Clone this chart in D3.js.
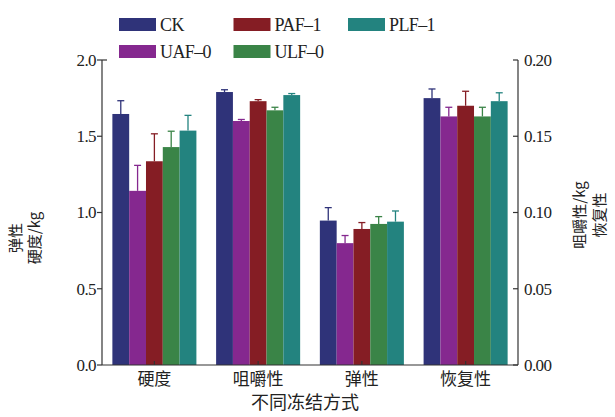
<!DOCTYPE html>
<html><head><meta charset="utf-8">
<script src="https://cdn.jsdelivr.net/npm/d3@7"></script>
<style>
html,body{margin:0;padding:0;background:#fff;}
svg{display:block;}
.num{font-family:"Liberation Serif","Times New Roman",serif;}
.cjk{font-family:"Noto Sans CJK SC",sans-serif;}
</style></head>
<body>
<svg id="chart" width="615" height="417"></svg>
<script>
// ---- data ----
const categories = ["硬度", "咀嚼性", "弹性", "恢复性"];
const axisSide = ["left", "right", "left", "right"];   // which y axis each category reads from
const seriesNames = ["CK", "UAF–0", "PAF–1", "ULF–0", "PLF–1"];
const seriesColors = ["#2f3379", "#85288f", "#851d24", "#3a8447", "#23837f"];
// values per series, in category order (硬度 kg, 咀嚼性 kg, 弹性, 恢复性)
const valCK  = [1.646, 0.179, 0.947, 0.175];
const valUAF = [1.142, 0.160, 0.799, 0.163];
const valPAF = [1.336, 0.173, 0.892, 0.170];
const valULF = [1.429, 0.167, 0.925, 0.163];
const valPLF = [1.537, 0.177, 0.940, 0.173];
const errCK  = [0.087, 0.0015, 0.085, 0.006];
const errUAF = [0.167, 0.0010, 0.050, 0.006];
const errPAF = [0.180, 0.0010, 0.042, 0.0095];
const errULF = [0.104, 0.0020, 0.048, 0.006];
const errPLF = [0.100, 0.0010, 0.070, 0.0055];
const leftTicks = [0.0, 0.5, 1.0, 1.5, 2.0];
const rightTicks = [0.00, 0.05, 0.10, 0.15, 0.20];

const values = [valCK, valUAF, valPAF, valULF, valPLF];
const errors = [errCK, errUAF, errPAF, errULF, errPLF];

const svg = d3.select("#chart");
const L = 102, R = 518, T = 60, B = 365;

const x0 = d3.scaleBand().domain(categories).range([L, R]).paddingInner(0.19).paddingOuter(0.1);
const x1 = d3.scaleBand().domain(seriesNames).range([0, x0.bandwidth()]).padding(0);
const yL = d3.scaleLinear().domain([0, 2.0]).range([B, T]);
const yR = d3.scaleLinear().domain([0, 0.20]).range([B, T]);
const yOf = ci => axisSide[ci] === "left" ? yL : yR;

// bars
const rows = [];
seriesNames.forEach((s, si) => {
  categories.forEach((c, ci) => {
    rows.push({s, si, c, ci, v: values[si][ci], e: errors[si][ci]});
  });
});

// error bars
const eg = svg.append("g");
rows.forEach(d => {
  const y = yOf(d.ci);
  const cx = x0(d.c) + x1(d.s) + x1.bandwidth() / 2;
  eg.append("line").attr("x1", cx).attr("x2", cx)
    .attr("y1", y(d.v)).attr("y2", y(d.v + d.e))
    .attr("stroke", seriesColors[d.si]).attr("stroke-width", 1.3);
  eg.append("line").attr("x1", cx - 3.5).attr("x2", cx + 3.5)
    .attr("y1", y(d.v + d.e)).attr("y2", y(d.v + d.e))
    .attr("stroke", seriesColors[d.si]).attr("stroke-width", 1.3);
});

svg.append("g").selectAll("rect").data(rows).join("rect")
  .attr("x", d => x0(d.c) + x1(d.s))
  .attr("width", x1.bandwidth())
  .attr("y", d => yOf(d.ci)(d.v))
  .attr("height", d => B - yOf(d.ci)(d.v))
  .attr("fill", d => seriesColors[d.si]);

// axes
const ax = svg.append("g").attr("stroke", "#333").attr("stroke-width", 1.2).attr("fill", "none");
ax.append("line").attr("x1", L).attr("x2", L).attr("y1", T).attr("y2", B);
ax.append("line").attr("x1", R).attr("x2", R).attr("y1", T).attr("y2", B);
ax.append("line").attr("x1", L).attr("x2", R).attr("y1", B).attr("y2", B);
leftTicks.forEach(t => {
  ax.append("line").attr("x1", L - 5).attr("x2", L).attr("y1", yL(t)).attr("y2", yL(t));
});
ax.append("line").attr("x1", L).attr("x2", L + 5).attr("y1", yL(2.0)).attr("y2", yL(2.0));
rightTicks.forEach(t => {
  ax.append("line").attr("x1", R - 5).attr("x2", R).attr("y1", yR(t)).attr("y2", yR(t));
});
categories.forEach(c => {
  const cx = x0(c) + x0.bandwidth() / 2;
  ax.append("line").attr("x1", cx).attr("x2", cx).attr("y1", B).attr("y2", B - 4);
});

// tick labels
svg.append("g").selectAll("text").data(leftTicks).join("text")
  .attr("class", "num").attr("x", L - 6).attr("y", d => yL(d)).attr("dy", "0.35em")
  .attr("text-anchor", "end").attr("font-size", 17).attr("letter-spacing", -0.6).attr("fill", "#222")
  .text(d => d3.format(".1f")(d));
svg.append("g").selectAll("text").data(rightTicks).join("text")
  .attr("class", "num").attr("x", R + 6).attr("y", d => yR(d)).attr("dy", "0.35em")
  .attr("text-anchor", "start").attr("font-size", 17).attr("letter-spacing", -0.6).attr("fill", "#222")
  .text(d => d3.format(".2f")(d));

// category labels
svg.append("g").selectAll("text").data(categories).join("text")
  .attr("class", "cjk").attr("x", d => x0(d) + x0.bandwidth() / 2).attr("y", 385)
  .attr("text-anchor", "middle").attr("font-size", 17).attr("fill", "#222")
  .text(d => d);
svg.append("text").attr("class", "cjk").attr("x", 305).attr("y", 409)
  .attr("text-anchor", "middle").attr("font-size", 18).attr("fill", "#222").text("不同冻结方式");

// y axis titles
const lt = svg.append("text").attr("class", "cjk").attr("transform", "translate(16,238) rotate(-90)")
  .attr("text-anchor", "middle").attr("font-size", 15).attr("fill", "#222");
lt.append("tspan").attr("x", 0).attr("dy", "0.35em").text("弹性");
lt.append("tspan").attr("x", 0).attr("dy", "1.25em").text("硬度/kg");
const rt = svg.append("text").attr("class", "cjk").attr("transform", "translate(580,215) rotate(-90)")
  .attr("text-anchor", "middle").attr("font-size", 15).attr("fill", "#222");
rt.append("tspan").attr("x", 0).attr("dy", "0.35em").text("咀嚼性/kg");
rt.append("tspan").attr("x", 0).attr("dy", "1.3em").text("恢复性");

// legend
const lg = svg.append("g");
seriesNames.forEach((s, i) => {
  const col = Math.floor(i / 2), row = i % 2;
  const sx = 119 + col * 114.5, sy = row === 0 ? 18 : 45;
  lg.append("rect").attr("x", sx).attr("y", sy).attr("width", 37).attr("height", 13).attr("fill", seriesColors[i]);
  lg.append("text").attr("class", "num").attr("x", sx + 41).attr("y", sy + 13)
    .attr("font-size", 18).attr("letter-spacing", -0.6).attr("fill", "#222").text(s);
});
</script>
</body></html>
